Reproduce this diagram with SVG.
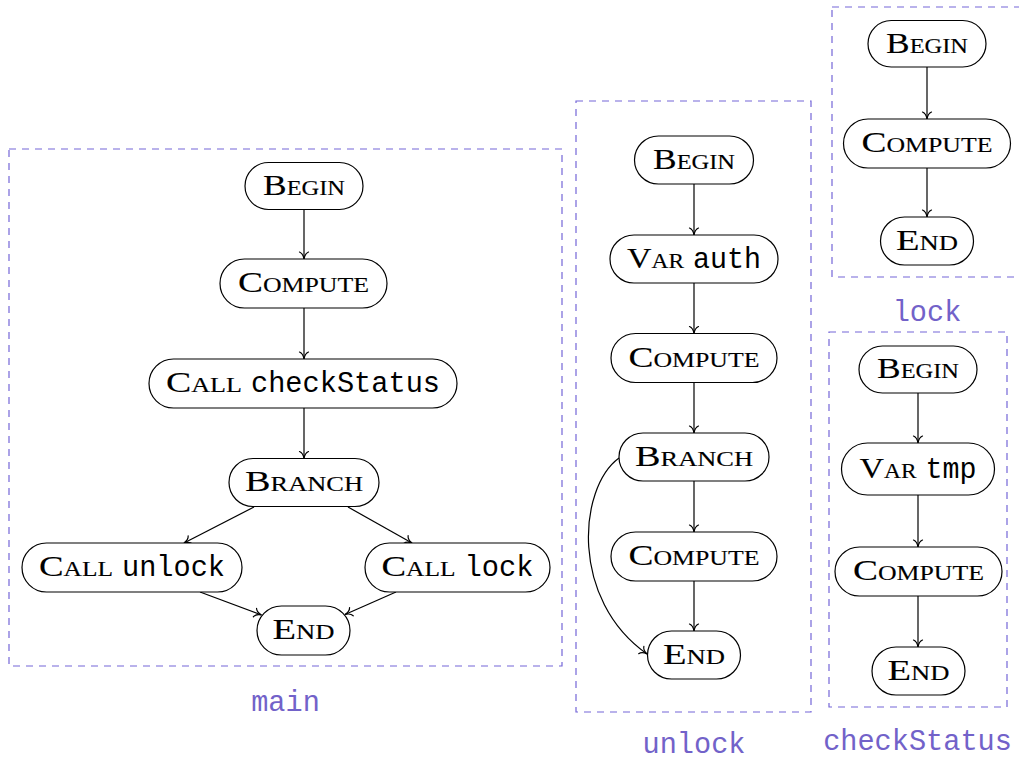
<svg xmlns="http://www.w3.org/2000/svg" width="1019" height="760" viewBox="0 0 1019 760">
  <style>
    .box { fill: #ffffff; stroke: #000000; stroke-width: 1.2; }
    .sc { font-family: "Liberation Serif", "DejaVu Serif", serif; font-variant: small-caps; font-size: 29px; fill: #000000; stroke: #000000; stroke-width: 0.12; }
    .tt { font-family: "Liberation Mono", "DejaVu Sans Mono", monospace; font-size: 28.6px; fill: #000000; }
    .frame { fill: none; stroke: #7466d8; stroke-width: 1.2; stroke-dasharray: 7 6; }
    .title { font-family: "Liberation Mono", "DejaVu Sans Mono", monospace; font-size: 28.6px; fill: #7262c9; text-anchor: middle; }
    .edge { fill: none; stroke: #000000; stroke-width: 1.2; marker-end: url(#tip); }
    .mid { text-anchor: middle; }
  </style>
  <defs>
    <marker id="tip" viewBox="-9 -6 10 12" refX="0" refY="0" markerWidth="10" markerHeight="12" markerUnits="userSpaceOnUse" orient="auto">
      <path d="M-7,-4.5 C-6,-2 -2.5,-0.4 0,0 C-2.5,0.4 -6,2 -7,4.5" fill="none" stroke="#000000" stroke-width="1.2" stroke-linecap="round"/>
    </marker>
  </defs>

  <!-- function frames and their names -->
  <g id="frame-main">
    <rect class="frame" x="9" y="149" width="553" height="517"/>
    <text class="title" x="285.5" y="711">main</text>
  </g>
  <g id="frame-unlock">
    <rect class="frame" x="576" y="101" width="235" height="611"/>
    <text class="title" x="694" y="753">unlock</text>
  </g>
  <g id="frame-lock">
    <rect class="frame" x="832" y="7" width="190" height="270"/>
    <text class="title" x="927" y="321">lock</text>
  </g>
  <g id="frame-checkStatus">
    <rect class="frame" x="829" y="332" width="178" height="375"/>
    <text class="title" x="917.5" y="750">checkStatus</text>
  </g>

  <!-- control-flow edges -->
  <g id="edges">
    <!-- main -->
    <line class="edge" x1="304" y1="209.5" x2="304" y2="259"/>
    <line class="edge" x1="304" y1="308" x2="304" y2="359"/>
    <line class="edge" x1="304" y1="408" x2="304" y2="458.5"/>
    <line class="edge" x1="254" y1="507" x2="184" y2="543"/>
    <line class="edge" x1="348" y1="507" x2="412" y2="543"/>
    <line class="edge" x1="200" y1="592" x2="261.5" y2="615"/>
    <line class="edge" x1="396" y1="592" x2="345" y2="614.5"/>
    <!-- unlock -->
    <line class="edge" x1="694" y1="184" x2="694" y2="235"/>
    <line class="edge" x1="694" y1="283" x2="694" y2="333.5"/>
    <line class="edge" x1="694" y1="382.5" x2="694" y2="433"/>
    <line class="edge" x1="694" y1="481" x2="694" y2="532"/>
    <line class="edge" x1="694" y1="581" x2="694" y2="631"/>
    <path class="edge" d="M619,458 C578,488 570,600 647,654"/>
    <!-- lock -->
    <line class="edge" x1="927" y1="67" x2="927" y2="119"/>
    <line class="edge" x1="927" y1="168" x2="927" y2="217"/>
    <!-- checkStatus -->
    <line class="edge" x1="918" y1="393" x2="918" y2="443"/>
    <line class="edge" x1="918" y1="495" x2="918" y2="547"/>
    <line class="edge" x1="918" y1="596" x2="918" y2="647"/>
  </g>

  <!-- main -->
  <g id="main-begin">
    <rect class="box" x="245" y="162.5" width="118" height="47" rx="23.5"/>
    <text class="sc mid" x="304" y="194.5" textLength="82" lengthAdjust="spacingAndGlyphs">Begin</text>
  </g>
  <g id="main-compute">
    <rect class="box" x="220" y="259" width="167" height="49" rx="24.5"/>
    <text class="sc mid" x="303.5" y="292" textLength="131" lengthAdjust="spacingAndGlyphs">Compute</text>
  </g>
  <g id="main-call-checkStatus">
    <rect class="box" x="149" y="359" width="308" height="49" rx="24.5"/>
    <text class="sc" x="166" y="392" textLength="76" lengthAdjust="spacingAndGlyphs">Call</text>
    <text class="tt" x="251" y="392" textLength="189" lengthAdjust="spacingAndGlyphs">checkStatus</text>
  </g>
  <g id="main-branch">
    <rect class="box" x="229" y="458.5" width="150" height="48" rx="24"/>
    <text class="sc mid" x="304" y="491" textLength="118" lengthAdjust="spacingAndGlyphs">Branch</text>
  </g>
  <g id="main-call-unlock">
    <rect class="box" x="22" y="543" width="220" height="49" rx="24.5"/>
    <text class="sc" x="39" y="576" textLength="74" lengthAdjust="spacingAndGlyphs">Call</text>
    <text class="tt" x="122" y="576" textLength="103" lengthAdjust="spacingAndGlyphs">unlock</text>
  </g>
  <g id="main-call-lock">
    <rect class="box" x="365" y="543" width="185" height="49" rx="24.5"/>
    <text class="sc" x="381.5" y="576" textLength="74" lengthAdjust="spacingAndGlyphs">Call</text>
    <text class="tt" x="464.5" y="576" textLength="69" lengthAdjust="spacingAndGlyphs">lock</text>
  </g>
  <g id="main-end">
    <rect class="box" x="257" y="606" width="93" height="49" rx="24.5"/>
    <text class="sc mid" x="303.5" y="639" textLength="62" lengthAdjust="spacingAndGlyphs">End</text>
  </g>

  <!-- unlock -->
  <g id="unlock-begin">
    <rect class="box" x="634.5" y="136" width="119" height="48" rx="24"/>
    <text class="sc mid" x="694" y="168.5" textLength="82" lengthAdjust="spacingAndGlyphs">Begin</text>
  </g>
  <g id="unlock-var-auth">
    <rect class="box" x="610" y="235" width="168" height="48" rx="24"/>
    <text class="sc" x="627" y="267.5" textLength="57" lengthAdjust="spacingAndGlyphs">Var</text>
    <text class="tt" x="693" y="267.5" textLength="68" lengthAdjust="spacingAndGlyphs">auth</text>
  </g>
  <g id="unlock-compute-1">
    <rect class="box" x="611" y="333.5" width="166" height="49" rx="24.5"/>
    <text class="sc mid" x="694" y="366.5" textLength="131" lengthAdjust="spacingAndGlyphs">Compute</text>
  </g>
  <g id="unlock-branch">
    <rect class="box" x="619" y="433" width="150" height="48" rx="24"/>
    <text class="sc mid" x="694" y="465.5" textLength="118" lengthAdjust="spacingAndGlyphs">Branch</text>
  </g>
  <g id="unlock-compute-2">
    <rect class="box" x="611" y="532" width="166" height="49" rx="24.5"/>
    <text class="sc mid" x="694" y="565" textLength="131" lengthAdjust="spacingAndGlyphs">Compute</text>
  </g>
  <g id="unlock-end">
    <rect class="box" x="647.5" y="631" width="93" height="48" rx="24"/>
    <text class="sc mid" x="694" y="663.5" textLength="62" lengthAdjust="spacingAndGlyphs">End</text>
  </g>

  <!-- lock -->
  <g id="lock-begin">
    <rect class="box" x="868" y="20.5" width="118" height="46.5" rx="23.25"/>
    <text class="sc mid" x="927" y="52.5" textLength="82" lengthAdjust="spacingAndGlyphs">Begin</text>
  </g>
  <g id="lock-compute">
    <rect class="box" x="843.5" y="119" width="167" height="49" rx="24.5"/>
    <text class="sc mid" x="927" y="152" textLength="131" lengthAdjust="spacingAndGlyphs">Compute</text>
  </g>
  <g id="lock-end">
    <rect class="box" x="880.5" y="217" width="93" height="48" rx="24"/>
    <text class="sc mid" x="927" y="249.5" textLength="62" lengthAdjust="spacingAndGlyphs">End</text>
  </g>

  <!-- checkStatus -->
  <g id="checkStatus-begin">
    <rect class="box" x="859" y="346" width="118" height="47" rx="23.5"/>
    <text class="sc mid" x="918" y="378" textLength="82" lengthAdjust="spacingAndGlyphs">Begin</text>
  </g>
  <g id="checkStatus-var-tmp">
    <rect class="box" x="841.5" y="443" width="153" height="52" rx="26"/>
    <text class="sc" x="859.5" y="477.5" textLength="57" lengthAdjust="spacingAndGlyphs">Var</text>
    <text class="tt" x="925.5" y="477.5" textLength="51" lengthAdjust="spacingAndGlyphs">tmp</text>
  </g>
  <g id="checkStatus-compute">
    <rect class="box" x="835" y="547" width="167" height="49" rx="24.5"/>
    <text class="sc mid" x="918.5" y="580" textLength="131" lengthAdjust="spacingAndGlyphs">Compute</text>
  </g>
  <g id="checkStatus-end">
    <rect class="box" x="872" y="647" width="93" height="48" rx="24"/>
    <text class="sc mid" x="918.5" y="679.5" textLength="62" lengthAdjust="spacingAndGlyphs">End</text>
  </g>
</svg>
